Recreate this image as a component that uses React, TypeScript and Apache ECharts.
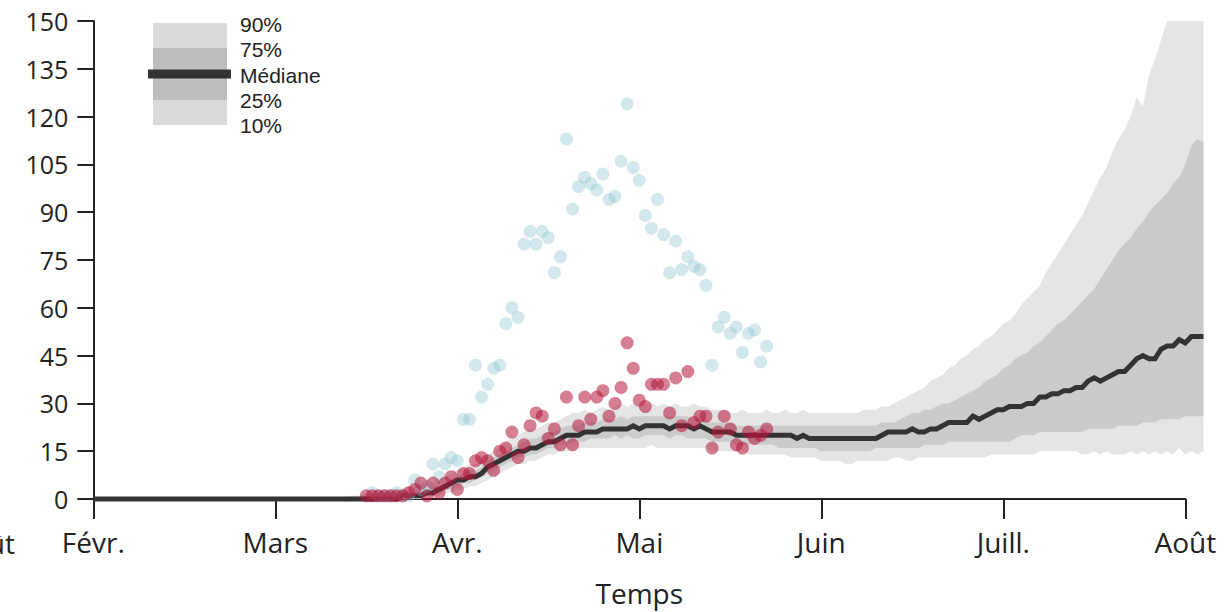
import React, { useEffect, useRef } from 'react';
import * as echarts from 'echarts';

// x axis: days since 1 Feb, each month drawn 30 days wide
const MONTHS = ['Févr.', 'Mars', 'Avr.', 'Mai', 'Juin', 'Juill.', 'Août'];
const LEGEND_LABELS = ['90%', '75%', 'Médiane', '25%', '10%'];

const MEDIAN_START = 0;
const MEDIAN = [
  0, 0, 0, 0, 0, 0, 0, 0, 0, 0,
  0, 0, 0, 0, 0, 0, 0, 0, 0, 0,
  0, 0, 0, 0, 0, 0, 0, 0, 0, 0,
  0, 0, 0, 0, 0, 0, 0, 0, 0, 0,
  0, 0, 0, 0, 0, 0, 0, 0, 0, 0,
  0, 1, 1, 1, 1, 2, 2, 3, 4, 5,
  6, 6, 7, 7, 8, 10, 11, 12, 13, 14,
  15, 15, 16, 16, 17, 18, 18, 19, 20, 20,
  20, 21, 21, 21, 22, 22, 22, 22, 22, 23,
  22, 23, 23, 23, 23, 22, 23, 23, 23, 22,
  23, 22, 21, 21, 21, 21, 20, 20, 20, 20,
  20, 20, 20, 20, 20, 20, 19, 20, 19, 19,
  19, 19, 19, 19, 19, 19, 19, 19, 19, 19,
  20, 21, 21, 21, 21, 22, 21, 21, 22, 22,
  23, 24, 24, 24, 24, 26, 25, 26, 27, 28,
  28, 29, 29, 29, 30, 30, 32, 32, 33, 33,
  34, 34, 35, 35, 37, 38, 37, 38, 39, 40,
  40, 42, 44, 45, 44, 44, 47, 48, 48, 50,
  49, 51, 51, 51,
];

const BAND_START = 40;
const P10 = [
  0, 0, 0, 0, 0, 0, 0, 0, 0, 0,
  0, 0, 0, 0, 0, 1, 1, 1, 2, 2,
  3, 3, 4, 4, 5, 6, 7, 8, 9, 10,
  11, 11, 12, 12, 13, 14, 14, 15, 15, 15,
  16, 16, 16, 16, 16, 16, 16, 16, 16, 16,
  16, 16, 17, 16, 16, 16, 16, 16, 16, 16,
  16, 16, 15, 15, 15, 15, 15, 15, 14, 14,
  14, 14, 14, 14, 14, 13, 13, 13, 13, 13,
  12, 12, 12, 12, 11, 11, 12, 12, 12, 12,
  12, 12, 13, 13, 12, 12, 13, 13, 13, 13,
  13, 13, 13, 13, 13, 13, 13, 13, 14, 14,
  14, 14, 14, 14, 14, 14, 15, 15, 15, 15,
  15, 15, 15, 14, 14, 15, 14, 15, 14, 14,
  14, 15, 14, 15, 14, 15, 14, 15, 14, 16,
  14, 15, 14, 15,
];
const P25 = [
  0, 0, 0, 0, 0, 0, 0, 0, 0, 0,
  0, 0, 1, 1, 1, 1, 1, 2, 3, 3,
  4, 5, 5, 6, 7, 8, 9, 10, 11, 12,
  13, 13, 14, 14, 15, 16, 16, 17, 17, 18,
  18, 18, 19, 19, 19, 19, 20, 19, 20, 19,
  19, 20, 20, 20, 20, 19, 20, 20, 19, 19,
  19, 19, 18, 18, 18, 18, 17, 17, 17, 17,
  17, 17, 17, 16, 16, 16, 16, 16, 16, 16,
  15, 15, 15, 15, 15, 15, 15, 15, 15, 16,
  16, 16, 16, 16, 16, 16, 16, 17, 17, 17,
  17, 18, 18, 18, 18, 18, 18, 18, 18, 18,
  18, 18, 19, 20, 20, 20, 21, 21, 21, 21,
  21, 21, 21, 21, 22, 22, 22, 22, 22, 23,
  23, 23, 23, 24, 24, 24, 25, 25, 25, 25,
  26, 26, 26, 26,
];
const P75 = [
  0, 0, 0, 0, 1, 1, 1, 1, 1, 1,
  1, 2, 2, 2, 3, 3, 4, 4, 5, 6,
  7, 8, 9, 9, 10, 12, 13, 14, 15, 16,
  17, 18, 19, 19, 20, 21, 21, 22, 23, 23,
  23, 24, 24, 24, 25, 25, 25, 26, 25, 26,
  26, 26, 26, 26, 26, 26, 26, 26, 26, 25,
  25, 25, 24, 24, 24, 24, 23, 23, 23, 23,
  23, 23, 23, 23, 23, 23, 23, 23, 23, 23,
  23, 23, 23, 23, 23, 23, 23, 23, 23, 23,
  24, 24, 24, 25, 26, 27, 27, 28, 28, 29,
  30, 30, 31, 32, 33, 34, 35, 37, 38, 39,
  41, 42, 44, 45, 46, 48, 49, 51, 53, 55,
  56, 58, 60, 62, 64, 66, 69, 72, 75, 78,
  80, 82, 85, 87, 90, 92, 94, 96, 99, 101,
  105, 111, 113, 112,
];
const P90 = [
  0, 0, 1, 1, 1, 2, 2, 2, 2, 3,
  3, 3, 4, 4, 4, 5, 5, 6, 7, 8,
  9, 10, 11, 11, 12, 14, 15, 16, 18, 19,
  20, 21, 22, 22, 23, 24, 24, 25, 26, 27,
  27, 28, 27, 28, 29, 28, 29, 30, 29, 30,
  29, 30, 30, 29, 30, 29, 30, 29, 29, 30,
  29, 29, 28, 28, 28, 27, 27, 28, 27, 27,
  27, 28, 27, 27, 28, 27, 27, 28, 27, 27,
  27, 27, 27, 27, 27, 27, 27, 28, 28, 28,
  29, 29, 30, 31, 32, 33, 34, 35, 37, 38,
  39, 41, 42, 44, 45, 47, 48, 50, 51, 53,
  55, 56, 58, 61, 63, 65, 67, 71, 74, 77,
  80, 83, 86, 89, 93, 97, 101, 104, 109, 113,
  116, 120, 126, 123, 133, 138, 144, 150, 150, 150,
  150, 150, 150, 150,
];

const BLUE_START = 46;
const BLUE = [
  2, 1, 1, 1, 2, 1, 1, 6, 3, 4,
  11, 7, 11, 13, 12, 25, 25, 42, 32, 36,
  41, 42, 55, 60, 57, 80, 84, 80, 84, 82,
  71, 76, 113, 91, 98, 101, 99, 97, 102, 94,
  95, 106, 124, 104, 100, 89, 85, 94, 83, 71,
  81, 72, 76, 73, 72, 67, 42, 54, 57, 52,
  54, 46, 52, 53, 43, 48,
];

const RED_START = 45;
const RED = [
  1, 1, 1, 1, 1, 1, 1, 2, 3, 5,
  1, 5, 2, 5, 7, 3, 8, 8, 12, 13,
  12, 9, 15, 16, 21, 13, 17, 23, 27, 26,
  19, 22, 17, 32, 17, 23, 32, 25, 32, 34,
  26, 30, 35, 49, 41, 31, 29, 36, 36, 36,
  27, 38, 23, 40, 24, 26, 26, 16, 21, 26,
  22, 17, 16, 21, 19, 20, 22,
];

const FONT = '"Open Sans", "DejaVu Sans", sans-serif';
const LEGEND_FONT = '"Liberation Sans", "Open Sans", sans-serif';
const INK = '#222222';

export default function App() {
  const ref = useRef<HTMLDivElement>(null);

  useEffect(() => {
    if (!ref.current) return;
    const chart = echarts.init(ref.current, null, { renderer: 'svg' });

    const toPairs = (start: number, arr: number[]) => arr.map((v, i) => [start + i, v]);

    const bandPolygon = (api: any, upper: number[], lower: number[], fill: string) => {
      const pts: number[][] = [];
      for (let i = 0; i < upper.length; i++) pts.push(api.coord([BAND_START + i, upper[i]]));
      for (let i = lower.length - 1; i >= 0; i--) pts.push(api.coord([BAND_START + i, lower[i]]));
      return { type: 'polygon', shape: { points: pts }, style: { fill } };
    };

    const medianPolyline = (api: any) => ({
      type: 'polyline',
      shape: { points: MEDIAN.map((v, i) => api.coord([MEDIAN_START + i, v])) },
      style: { stroke: '#333333', lineWidth: 5, fill: null, lineJoin: 'miter' },
    });

    const legendY = [24.5, 49.75, 75, 100.25, 125.5];

    chart.setOption({
      animation: false,
      grid: { left: 93.3, right: 38.7, top: 21, bottom: 111.5, containLabel: false },
      xAxis: {
        type: 'value',
        min: 0,
        max: 180,
        interval: 30,
        name: 'Temps',
        nameLocation: 'middle',
        nameGap: 80,
        nameTextStyle: { fontFamily: FONT, fontSize: 28, color: INK },
        axisLine: { show: true, lineStyle: { color: INK, width: 2 } },
        axisTick: { show: true, length: 20, lineStyle: { color: INK, width: 2 } },
        axisLabel: {
          show: true,
          margin: 29,
          fontFamily: FONT,
          fontSize: 28,
          color: INK,
          showMinLabel: true,
          showMaxLabel: true,
          formatter: (v: number) => MONTHS[Math.round(v / 30)] ?? '',
        },
        splitLine: { show: false },
      },
      yAxis: {
        type: 'value',
        min: 0,
        max: 150,
        interval: 15,
        axisLine: { show: true, lineStyle: { color: INK, width: 2 } },
        axisTick: { show: true, length: 16, lineStyle: { color: INK, width: 2 } },
        axisLabel: { margin: 25, fontFamily: FONT, fontSize: 25, color: INK },
        splitLine: { show: false },
      },
      graphic: [
        {
          type: 'text',
          x: 15,
          y: 543,
          style: { text: 'Août', fontFamily: FONT, fontSize: 28, fill: INK, align: 'right', verticalAlign: 'middle' },
        },
        { type: 'rect', shape: { x: 153, y: 23, width: 74, height: 102 }, style: { fill: '#dadada' } },
        { type: 'rect', shape: { x: 153, y: 48, width: 74, height: 52 }, style: { fill: '#bebebe' } },
        { type: 'rect', shape: { x: 148, y: 69.5, width: 83, height: 9 }, style: { fill: '#333333' } },
        ...LEGEND_LABELS.map((t, i) => ({
          type: 'text',
          x: 240,
          y: legendY[i],
          style: {
            text: t,
            fontFamily: LEGEND_FONT,
            fontSize: 21,
            lineHeight: 21,
            fill: INK,
            align: 'left',
            verticalAlign: 'middle',
          },
        })),
      ],
      series: [
        {
          type: 'custom',
          z: 1,
          clip: false,
          data: [[90, 0]],
          renderItem: (_params: any, api: any) => ({
            type: 'group',
            children: [
              bandPolygon(api, P90, P10, '#e5e5e5'),
              bandPolygon(api, P75, P25, '#cbcbcb'),
              medianPolyline(api),
            ],
          }),
        },
        {
          type: 'scatter',
          z: 3,
          symbolSize: 13,
          data: toPairs(BLUE_START, BLUE),
          itemStyle: { color: '#8fc5d3', opacity: 0.4 },
        },
        {
          type: 'scatter',
          z: 4,
          symbolSize: 13,
          data: toPairs(RED_START, RED),
          itemStyle: { color: '#b5163a', opacity: 0.55 },
        },
      ],
    });

    return () => chart.dispose();
  }, []);

  return <div ref={ref} style={{ position: 'absolute', left: 0, top: 0, width: 1224, height: 612 }} />;
}
